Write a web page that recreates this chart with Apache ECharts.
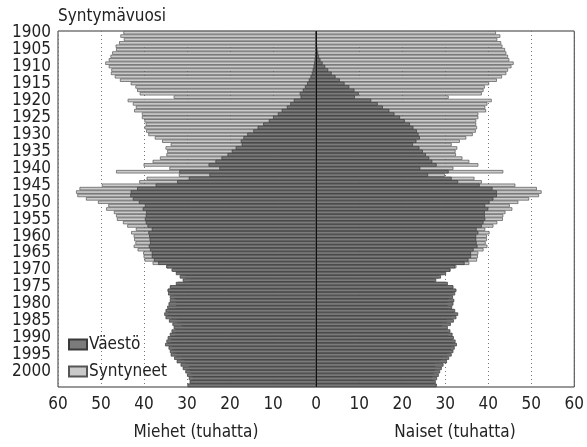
<!DOCTYPE html>
<html><head><meta charset="utf-8">
<script src="https://cdn.jsdelivr.net/npm/echarts@6/dist/echarts.min.js"></script>
<style>html,body{margin:0;padding:0;background:#fff}#c{width:587px;height:447px}</style>
</head><body><div id="c"></div>
<script>
// Birth year categories (top to bottom)
const years = ['1900','1901','1902','1903','1904','1905','1906','1907','1908','1909',
'1910','1911','1912','1913','1914','1915','1916','1917','1918','1919',
'1920','1921','1922','1923','1924','1925','1926','1927','1928','1929',
'1930','1931','1932','1933','1934','1935','1936','1937','1938','1939',
'1940','1941','1942','1943','1944','1945','1946','1947','1948','1949',
'1950','1951','1952','1953','1954','1955','1956','1957','1958','1959',
'1960','1961','1962','1963','1964','1965','1966','1967','1968','1969',
'1970','1971','1972','1973','1974','1975','1976','1977','1978','1979',
'1980','1981','1982','1983','1984','1985','1986','1987','1988','1989',
'1990','1991','1992','1993','1994','1995','1996','1997','1998','1999',
'2000','2001','2002','2003','2004'];

// Labelled years on the vertical axis
const yearTicks = ['1900','1905','1910','1915','1920','1925','1930','1935','1940','1945',
'1950','1955','1960','1965','1970','1975','1980','1985','1990','1995','2000'];

// Syntyneet, miehet (thousands)
const maleBirths = [44.8,45.5,44.7,45.8,46.6,46.5,47.4,47.8,48.2,49.0,
48.2,47.6,47.7,46.8,45.6,43.1,42.0,41.6,41.0,33.1,
43.8,42.6,41.9,42.3,40.5,40.5,39.9,39.6,39.9,39.5,
39.0,37.5,35.8,33.8,35.0,34.6,34.8,36.3,38.0,40.1,
34.1,46.5,31.9,39.4,41.1,49.8,55.0,55.8,55.5,53.5,
50.7,48.3,48.8,47.0,46.5,46.3,44.9,43.9,41.9,43.0,
42.4,42.3,42.0,42.4,41.5,40.2,40.1,39.9,38.0,34.8,
33.3,31.5,30.4,29.3,32.2,33.9,34.5,33.9,33.0,32.7,
32.5,32.7,34.1,34.5,33.6,32.4,31.3,30.9,32.7,32.7,
33.8,33.7,34.4,33.5,33.1,32.5,31.3,30.6,29.5,29.7,
29.3,29.0,28.7,29.2,29.8];

// Syntyneet, naiset (thousands)
const femaleBirths = [41.8,42.8,42.1,43.0,43.3,43.9,44.2,44.6,44.9,45.9,
45.4,44.6,44.2,43.2,42.0,40.2,39.2,38.9,38.5,30.8,
40.8,39.8,39.3,39.5,37.7,37.7,37.2,37.2,37.4,37.1,
36.4,34.9,33.4,31.5,32.8,32.4,32.5,34.0,35.6,37.7,
31.9,43.5,29.9,36.8,38.5,46.3,51.3,52.4,51.8,49.5,
47.0,45.0,45.6,44.0,43.5,43.4,42.1,41.2,39.3,40.3,
39.7,39.7,39.4,39.8,38.9,37.7,37.6,37.4,35.6,32.6,
31.2,29.6,28.5,27.5,30.2,31.8,32.4,31.8,31.0,30.7,
30.5,30.7,32.0,32.4,31.5,30.4,29.3,29.0,30.6,30.7,
31.7,31.7,32.3,31.4,31.1,30.5,29.4,28.7,27.6,27.9,
27.5,27.2,26.9,27.4,28.0];

// Väestö, miehet (thousands)
const malePop = [0.02,0.03,0.05,0.07,0.1,0.13,0.18,0.25,0.35,0.45,
0.6,0.8,1.0,1.3,1.7,2.1,2.6,3.1,3.8,3.6,
5.2,6.0,6.8,8.0,8.9,10.0,11.0,12.3,13.6,14.6,
16.0,16.9,17.5,17.3,18.7,19.6,20.6,22.0,23.4,25.0,
22.5,31.8,24.8,29.6,32.3,37.3,41.6,43.1,43.2,42.6,
41.2,39.8,40.3,39.5,39.6,39.8,39.6,39.2,38.2,39.0,
38.8,38.7,38.6,38.9,38.6,38.2,38.2,37.7,36.7,34.8,
33.6,32.6,31.7,31.0,32.6,34.0,34.5,34.4,34.0,34.0,
34.3,34.6,35.0,35.3,35.0,34.2,33.4,33.1,33.6,34.0,
34.5,34.8,35.1,34.3,34.0,33.8,33.0,32.4,31.5,31.0,
30.4,30.0,29.6,29.4,29.9];

// Väestö, naiset (thousands)
const femalePop = [0.05,0.08,0.1,0.15,0.2,0.3,0.45,0.65,1.0,1.5,
2.1,2.8,3.6,4.5,5.5,6.6,7.7,8.9,9.9,9.0,
12.8,14.3,15.5,17.0,18.2,19.5,20.6,21.8,22.6,23.4,
23.8,24.1,23.3,22.5,24.0,24.8,25.5,26.3,27.0,28.0,
24.2,30.8,26.0,31.5,33.0,38.0,41.0,42.0,42.0,41.2,
40.3,39.3,40.0,39.2,39.2,39.3,38.9,38.5,37.3,37.7,
37.2,37.2,37.3,37.5,36.6,36.0,36.0,35.4,34.5,32.3,
31.2,30.2,29.0,27.9,30.6,31.9,32.6,32.3,31.8,32.1,
31.9,31.6,32.3,33.0,32.6,32.0,31.3,30.6,31.2,31.7,
32.0,32.4,32.7,32.2,31.9,31.5,30.9,30.4,29.6,29.2,
28.8,28.5,28.1,27.8,28.0];

const FONT = "'DejaVu Sans Condensed', 'Open Sans', sans-serif";
const FS = 17;
const LIGHT = {color:'#cacaca', borderColor:'#555', borderWidth:0.7};
const DARK = {color:'#7b7b7b', borderColor:'#3a3a3a', borderWidth:0.7};

const chart = echarts.init(document.getElementById('c'), null, {renderer:'canvas'});
chart.setOption({
  animation:false,
  backgroundColor:'#ffffff',
  grid:{left:58, top:31, width:520, height:356, show:true, borderColor:'#333', borderWidth:1, backgroundColor:'transparent'},
  legend:{
    orient:'vertical', left:63, top:331, itemWidth:18, itemHeight:10, itemGap:10,
    icon:'rect', selectedMode:false,
    data:['Väestö','Syntyneet'],
    textStyle:{fontFamily:FONT, fontSize:FS, color:'#222', padding:[0,0,0,-3]}
  },
  xAxis:{
    type:'value', min:-60, max:60, interval:10,
    axisLine:{show:false}, axisTick:{show:false},
    axisLabel:{formatter:function(v){return String(Math.abs(v));}, fontFamily:FONT, fontSize:FS, color:'#222', margin:9},
    splitLine:{show:true, lineStyle:{type:[1,3], color:'#777', width:1}}
  },
  yAxis:{
    type:'category', data:years, inverse:true,
    axisLine:{show:false}, axisTick:{show:false},
    axisLabel:{interval:0, showMinLabel:true, showMaxLabel:true, hideOverlap:false,
      formatter:function(v){return yearTicks.indexOf(v) >= 0 ? v : '';},
      fontFamily:FONT, fontSize:FS, color:'#222', margin:7, lineHeight:16},
    splitLine:{show:false}
  },
  graphic:[
    {type:'text', x:58, y:17, style:{text:'Syntymävuosi', fontFamily:FONT, fontSize:FS, fill:'#222', align:'left', verticalAlign:'middle'}},
    {type:'text', x:196, y:433, style:{text:'Miehet (tuhatta)', fontFamily:FONT, fontSize:FS, fill:'#222', align:'center', verticalAlign:'middle'}},
    {type:'text', x:455, y:433, style:{text:'Naiset (tuhatta)', fontFamily:FONT, fontSize:FS, fill:'#222', align:'center', verticalAlign:'middle'}}
  ],
  series:[
    {name:'Syntyneet', type:'bar', data:maleBirths.map(function(v){return -v;}), barWidth:'100%', barGap:'-100%', itemStyle:LIGHT, silent:true},
    {name:'Syntyneet', type:'bar', data:femaleBirths, barWidth:'100%', barGap:'-100%', itemStyle:LIGHT, silent:true},
    {name:'Väestö', type:'bar', data:malePop.map(function(v){return -v;}), barWidth:'100%', barGap:'-100%', itemStyle:DARK, silent:true},
    {name:'Väestö', type:'bar', data:femalePop, barWidth:'100%', barGap:'-100%', itemStyle:DARK, silent:true, z:3,
      markLine:{silent:true, symbol:'none', label:{show:false}, lineStyle:{color:'#111', width:1, type:'solid'}, data:[{xAxis:0}]}}
  ]
});
</script></body></html>
